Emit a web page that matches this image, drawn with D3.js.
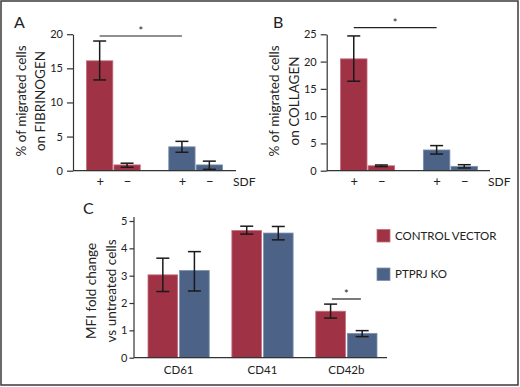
<!DOCTYPE html>
<html><head><meta charset="utf-8">
<script src="https://cdn.jsdelivr.net/npm/d3@7/dist/d3.min.js"></script>
<style>
html,body{margin:0;padding:0;background:#fff;}
svg text{font-family:Lato,"Open Sans",sans-serif;fill:#222;}
</style></head>
<body>
<svg id="c" width="520" height="387"></svg>
<script>
// ---- data ----
const series = ["CONTROL VECTOR", "PTPRJ KO"];
const seriesColors = ["#a03246", "#4c6387"];
const seriesStroke = ["#c46d7b", "#7d91ad"];

// Panels A/B: slots (category positions) with SDF + / −
const sdfCategories = ["ctrl+", "ctrl−", "gap", "ko+", "ko−"];
const sdfBars = ["ctrl+", "ctrl−", "ko+", "ko−"];
const sdfBarSeries = [0, 0, 1, 1];
const sdfLabels = ["+", "−", "+", "−"];

const fibrinogenValues = [16.1, 0.85, 3.5, 0.85];
const fibrinogenLow = [13.3, 0.5, 2.7, 0.2];
const fibrinogenHigh = [19.0, 1.1, 4.3, 1.4];
const fibrinogenTicks = [0, 5, 10, 15, 20];

const collagenValues = [20.5, 0.9, 3.8, 0.8];
const collagenLow = [16.4, 0.75, 3.05, 0.5];
const collagenHigh = [24.7, 1.05, 4.6, 1.1];
const collagenTicks = [0, 5, 10, 15, 20, 25];

// Panel C
const markers = ["CD61", "CD41", "CD42b"];
const controlValues = [3.03, 4.65, 1.7];
const controlLow = [2.42, 4.52, 1.45];
const controlHigh = [3.64, 4.81, 1.96];
const koValues = [3.19, 4.56, 0.89];
const koLow = [2.44, 4.31, 0.77];
const koHigh = [3.88, 4.80, 0.99];
const mfiTicks = [0, 1, 2, 3, 4, 5];

const svg = d3.select("#c");
// frame
svg.append("rect").attr("x", 1).attr("y", 1).attr("width", 517).attr("height", 384)
  .attr("fill", "none").attr("stroke", "#3a3a3a").attr("stroke-width", 1.5);

function styleAxis(a) {
  a.selectAll("path,line").attr("stroke", "#333").attr("stroke-width", 1.2);
  a.selectAll("text").style("font-family", "Lato, sans-serif").style("font-size", "11px").attr("fill", "#222");
}

function yAxis(g, y, x0, ticks) {
  const ax = d3.axisLeft(y).tickValues(ticks).tickFormat(d3.format("d")).tickSize(6).tickSizeOuter(0).tickPadding(4);
  const a = g.append("g").attr("transform", `translate(${x0},0)`).call(ax);
  styleAxis(a);
}

function errBar(g, cx, yLow, yHigh, cap) {
  const e = g.append("g").attr("stroke", "#1a1a1a").attr("stroke-width", 1.5);
  e.append("line").attr("x1", cx).attr("x2", cx).attr("y1", yLow).attr("y2", yHigh);
  e.append("line").attr("x1", cx - cap).attr("x2", cx + cap).attr("y1", yLow).attr("y2", yLow);
  e.append("line").attr("x1", cx - cap).attr("x2", cx + cap).attr("y1", yHigh).attr("y2", yHigh);
}

function titleY(g, cx1, cx2, cy, l1, l2) {
  g.append("text").attr("transform", `translate(${cx1},${cy}) rotate(-90)`)
    .attr("text-anchor", "middle").style("font-size", "13.5px").text(l1);
  g.append("text").attr("transform", `translate(${cx2},${cy}) rotate(-90)`)
    .attr("text-anchor", "middle").style("font-size", "13.5px").text(l2);
}

function sdfPanel(opt) {
  const g = svg.append("g");
  const y = d3.scaleLinear().domain([0, opt.max]).range([170.7, opt.topY]);
  const x = d3.scaleBand().domain(sdfCategories).range(opt.xRange).paddingInner(0.04).paddingOuter(0);
  sdfBars.forEach((k, i) => {
    const s = sdfBarSeries[i];
    g.append("rect").attr("x", x(k)).attr("width", x.bandwidth())
      .attr("y", y(opt.values[i])).attr("height", y(0) - y(opt.values[i]))
      .attr("fill", seriesColors[s]).attr("stroke", seriesStroke[s]).attr("stroke-width", 0.8);
  });
  sdfBars.forEach((k, i) => {
    errBar(g, x(k) + x.bandwidth() / 2, y(opt.low[i]), y(opt.high[i]), 6.5);
  });
  yAxis(g, y, opt.axisX, opt.ticks);
  g.append("line").attr("x1", opt.axisX).attr("x2", opt.xEnd).attr("y1", y(0)).attr("y2", y(0))
    .attr("stroke", "#333").attr("stroke-width", 1.2);
  sdfBars.forEach((k, i) => {
    g.append("text").attr("x", x(k) + x.bandwidth() / 2 + 0.5).attr("y", 186)
      .attr("text-anchor", "middle").style("font-size", "13px").text(sdfLabels[i]);
  });
  g.append("text").attr("x", opt.sdfX).attr("y", 186).style("font-size", "12px").text("SDF");
  const cxa = x("ctrl+") + x.bandwidth() / 2, cxb = x("ko+") + x.bandwidth() / 2;
  g.append("line").attr("x1", cxa).attr("x2", cxb).attr("y1", opt.sigY).attr("y2", opt.sigY)
    .attr("stroke", "#222").attr("stroke-width", 1.2);
  g.append("text").attr("x", (cxa + cxb) / 2).attr("y", opt.sigY - 1).attr("text-anchor", "middle")
    .style("font-size", "11px").text("*");
  g.append("text").attr("x", opt.letterX).attr("y", 28).style("font-size", "16px").text(opt.letter);
  titleY(g, opt.t1x, opt.t2x, 101, opt.l1, opt.l2);
}

sdfPanel({
  values: fibrinogenValues, low: fibrinogenLow, high: fibrinogenHigh, ticks: fibrinogenTicks,
  max: 20, topY: 34.2, xRange: [86.5, 222.5], axisX: 73, xEnd: 236, sdfX: 233, sigY: 36,
  letter: "A", letterX: 14, t1x: 25.5, t2x: 45, l1: "% of migrated cells", l2: "on FIBRINOGEN"
});
sdfPanel({
  values: collagenValues, low: collagenLow, high: collagenHigh, ticks: collagenTicks,
  max: 25, topY: 34.3, xRange: [340.5, 477.5], axisX: 326.7, xEnd: 490, sdfX: 488, sigY: 27.7,
  letter: "B", letterX: 273, t1x: 279, t2x: 298.5, l1: "% of migrated cells", l2: "on COLLAGEN"
});

// Panel C
(function () {
  const g = svg.append("g");
  const y = d3.scaleLinear().domain([0, 5]).range([357.7, 221]);
  const x0 = d3.scaleBand().domain(markers).range([148, 377]).paddingInner(0.27).paddingOuter(0);
  const x1 = d3.scaleBand().domain(series).range([0, x0.bandwidth()]).paddingInner(0.06);
  const vals = [controlValues, koValues], lows = [controlLow, koLow], highs = [controlHigh, koHigh];
  markers.forEach((m, i) => {
    series.forEach((s, j) => {
      g.append("rect").attr("x", x0(m) + x1(s)).attr("width", x1.bandwidth())
        .attr("y", y(vals[j][i])).attr("height", y(0) - y(vals[j][i]))
        .attr("fill", seriesColors[j]).attr("stroke", seriesStroke[j]).attr("stroke-width", 0.8);
    });
  });
  markers.forEach((m, i) => {
    series.forEach((s, j) => {
      errBar(g, x0(m) + x1(s) + x1.bandwidth() / 2, y(lows[j][i]), y(highs[j][i]), 6.5);
    });
  });
  const ax = d3.axisLeft(y).tickValues(mfiTicks).tickFormat(d3.format("d")).tickSize(4.5).tickSizeOuter(0).tickPadding(2);
  const a = g.append("g").attr("transform", "translate(134,0)").call(ax);
  a.select(".domain").attr("d", `M-0,${y(5.15)}V${y(0)}`);
  styleAxis(a);
  g.append("line").attr("x1", 134).attr("x2", 387).attr("y1", y(0)).attr("y2", y(0))
    .attr("stroke", "#333").attr("stroke-width", 1.2);
  markers.forEach(m => {
    g.append("text").attr("x", x0(m) + x0.bandwidth() / 2).attr("y", 374)
      .attr("text-anchor", "middle").style("font-size", "11.5px").text(m);
  });
  const cx = x0("CD42b") + x0.bandwidth() / 2;
  g.append("line").attr("x1", cx - 14.5).attr("x2", cx + 14.5).attr("y1", 299).attr("y2", 299)
    .attr("stroke", "#222").attr("stroke-width", 1.2);
  g.append("text").attr("x", cx).attr("y", 298).attr("text-anchor", "middle").style("font-size", "11px").text("*");
  g.append("text").attr("x", 83).attr("y", 214).style("font-size", "16px").text("C");
  titleY(g, 96, 115.5, 291, "MFI fold change", "vs untreated cells");
  series.forEach((s, j) => {
    const ly = [229.5, 268][j];
    g.append("rect").attr("x", 377).attr("y", ly).attr("width", 13).attr("height", 12.5)
      .attr("fill", seriesColors[j]).attr("stroke", seriesStroke[j]).attr("stroke-width", 0.8);
    g.append("text").attr("x", 395).attr("y", ly + 10).style("font-size", "11.5px").text(s);
  });
})();
</script>
</body></html>
